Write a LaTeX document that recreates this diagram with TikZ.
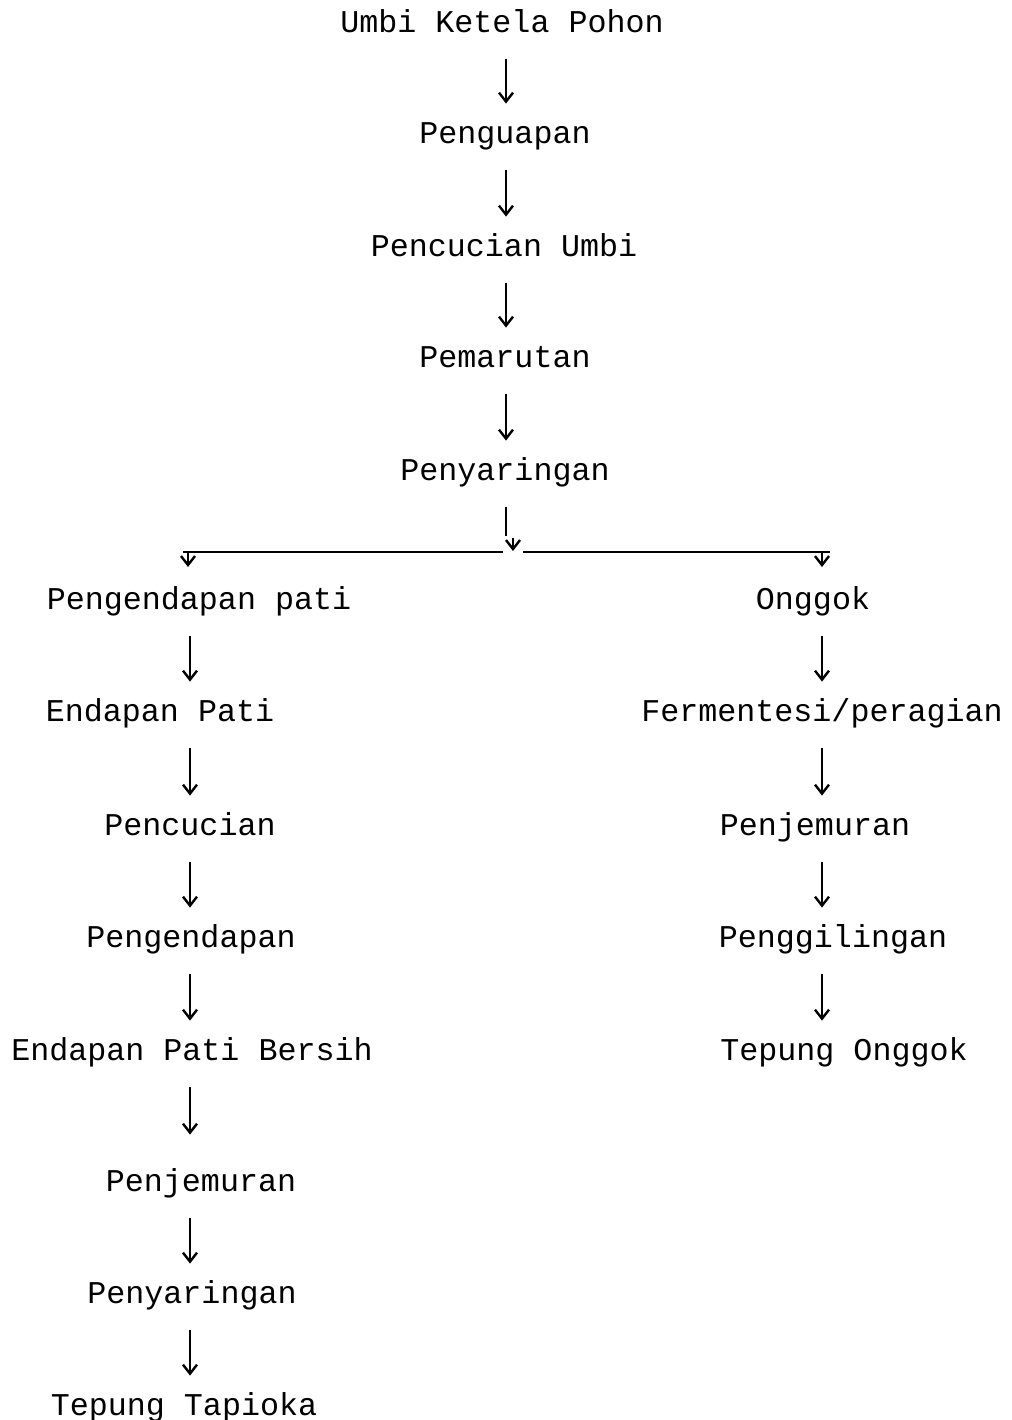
\documentclass[tikz,border=0pt]{standalone}
\usepackage{fontspec}
\setmainfont{Liberation Mono}
\usetikzlibrary{arrows.meta}

\tikzset{
  proc/.style={inner sep=0pt, anchor=base, text height=11pt, text depth=4pt,
    font=\fontsize{15.85}{18}\selectfont},
  flow/.style={line width=1.2pt, -{Straight Barb[length=4.5pt,width=7pt]},
    shorten <=9.5pt, shorten >=8.5pt},
  tick/.style={line width=1.2pt, -{Straight Barb[length=4.5pt,width=7pt]}},
}

\begin{document}
\begin{tikzpicture}[x=0.5pt, y=-0.5pt]
\useasboundingbox (0,0) rectangle (1012,1420);

% columns of the arrows
\coordinate (colM) at (506,0);
\coordinate (colL) at (190,0);
\coordinate (colR) at (822,0);

% main line
\node[proc] (umbi)   at (502,32)  {Umbi Ketela Pohon};
\node[proc] (uap)    at (505,143) {Penguapan};
\node[proc] (cuci)   at (504,256) {Pencucian Umbi};
\node[proc] (parut)  at (505,367) {Pemarutan};
\node[proc] (saring) at (505,480) {Penyaringan};

% left branch
\node[proc] (patiA)   at (199,609)  {Pengendapan pati};
\node[proc] (endapan) at (160,721)  {Endapan Pati};
\node[proc] (cuciL)   at (190,835)  {Pencucian};
\node[proc] (ngendap) at (191,947)  {Pengendapan};
\node[proc] (bersih)  at (192,1060) {Endapan Pati Bersih};
\node[proc] (jemurL)  at (201,1191) {Penjemuran};
\node[proc] (saringL) at (192,1303) {Penyaringan};
\node[proc] (tapioka) at (184,1415) {Tepung Tapioka};

% right branch
\node[proc] (onggok)  at (813,609)  {Onggok};
\node[proc] (ferm)    at (822,721)  {Fermentesi/peragian};
\node[proc] (jemurR)  at (815,835)  {Penjemuran};
\node[proc] (giling)  at (833,947)  {Penggilingan};
\node[proc] (tepungR) at (844,1060) {Tepung Onggok};

\draw[flow] (umbi.south -| colM)  -- (uap.north -| colM);
\draw[flow] (uap.south -| colM)   -- (cuci.north -| colM);
\draw[flow] (cuci.south -| colM)  -- (parut.north -| colM);
\draw[flow] (parut.south -| colM) -- (saring.north -| colM);

% split
\coordinate (hub)    at (506,536);
\coordinate (hubA)   at (513,538);
\coordinate (hubB)   at (513,551);
\coordinate (barL)   at (183,552);
\coordinate (gapL)   at (503,552);
\coordinate (gapR)   at (523,552);
\coordinate (barR)   at (830,552);
\coordinate (downL)  at (188,552);
\coordinate (downLe) at (188,567);
\coordinate (downR)  at (822,552);
\coordinate (downRe) at (822,567);
\draw[line width=1.2pt, shorten <=9.5pt] (saring.south -| colM) -- (hub);
\draw[tick] (hubA) -- (hubB);
\draw[line width=1.2pt] (barL) -- (gapL);
\draw[line width=1.2pt] (gapR) -- (barR);
\draw[tick] (downL) -- (downLe);
\draw[tick] (downR) -- (downRe);

\draw[flow] (patiA.south -| colL)   -- (endapan.north -| colL);
\draw[flow] (endapan.south -| colL) -- (cuciL.north -| colL);
\draw[flow] (cuciL.south -| colL)   -- (ngendap.north -| colL);
\draw[flow] (ngendap.south -| colL) -- (bersih.north -| colL);
\draw[flow, shorten >=17pt] (bersih.south -| colL) -- (jemurL.north -| colL);
\draw[flow] (jemurL.south -| colL)  -- (saringL.north -| colL);
\draw[flow] (saringL.south -| colL) -- (tapioka.north -| colL);

\draw[flow] (onggok.south -| colR) -- (ferm.north -| colR);
\draw[flow] (ferm.south -| colR)   -- (jemurR.north -| colR);
\draw[flow] (jemurR.south -| colR) -- (giling.north -| colR);
\draw[flow] (giling.south -| colR) -- (tepungR.north -| colR);
\end{tikzpicture}
\end{document}
